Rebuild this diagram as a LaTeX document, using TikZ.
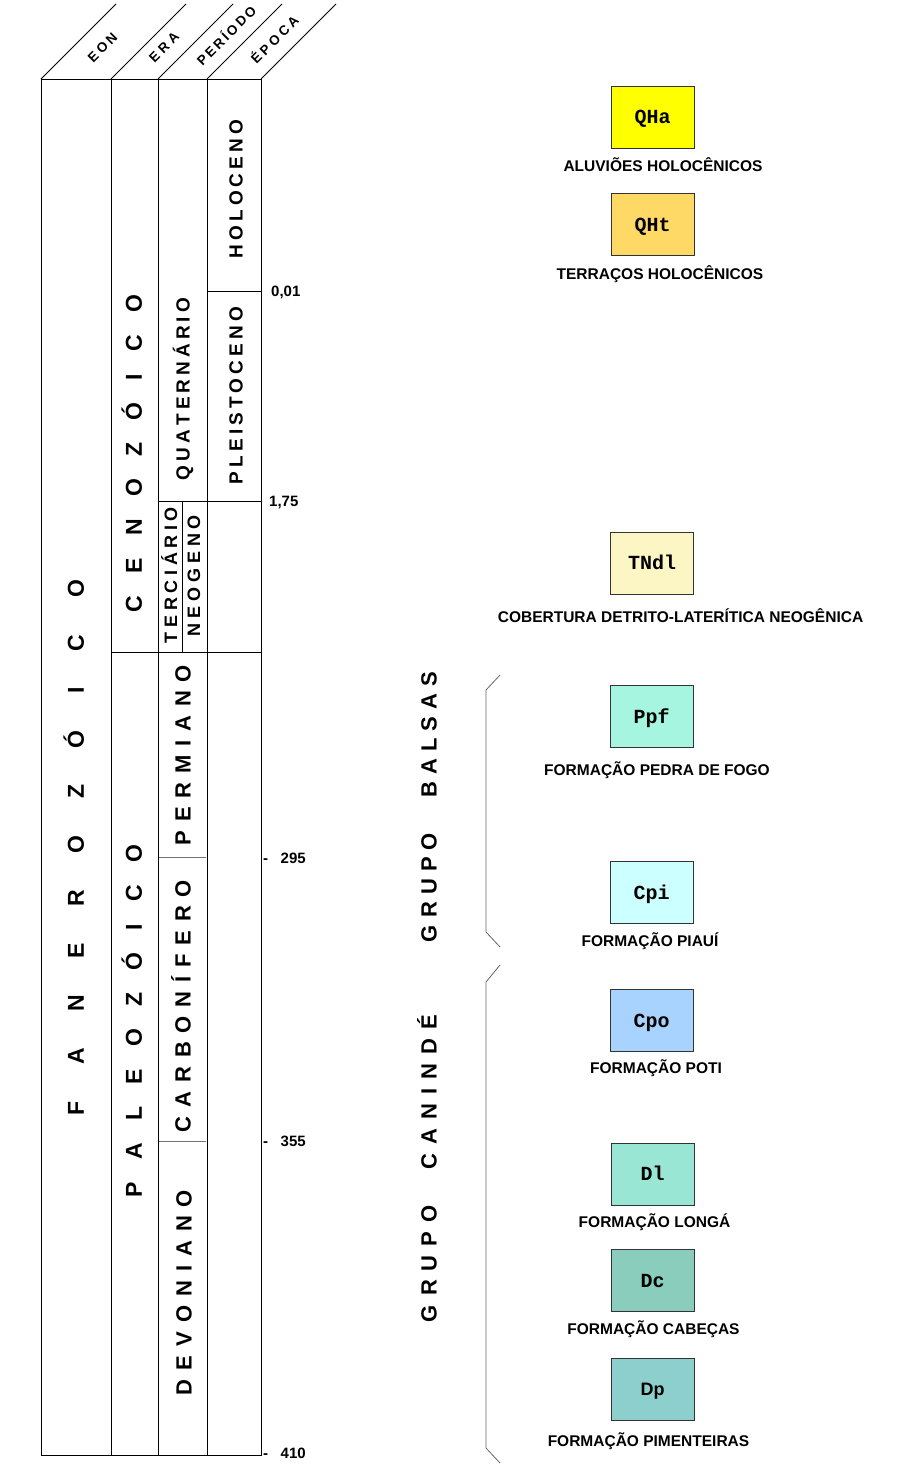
\documentclass[tikz,border=0pt]{standalone}
\usepackage{fontspec}
\setmainfont{Liberation Sans}
\newfontfamily\monob{Liberation Mono}
\newcommand{\capbox}[1]{\vphantom{X}\smash{#1}}
\newcommand{\spreadbox}[2]{\vphantom{X}\smash{\makebox[#1][s]{#2}}}
\definecolor{cQHa}{HTML}{FFFF00}
\definecolor{cQHt}{HTML}{FFD966}
\definecolor{cTNdl}{HTML}{FBF6C4}
\definecolor{cPpf}{HTML}{A6F5E1}
\definecolor{cCpi}{HTML}{CCFFFF}
\definecolor{cCpo}{HTML}{A8D3FF}
\definecolor{cDl}{HTML}{9AE6D4}
\definecolor{cDc}{HTML}{8ACDBD}
\definecolor{cDp}{HTML}{8CCFCC}
\begin{document}
\begin{tikzpicture}[x=1pt,y=-1pt,
  col/.style={line width=1pt, draw=black},
  sub/.style={line width=1pt, draw=black!55},
  vword/.style={rotate=90, inner sep=0pt, font=\bfseries\fontsize{#1}{#1}\selectfont},
  hdr/.style={rotate=45, inner sep=0pt, font=\bfseries\fontsize{13.5}{13.5}\selectfont},
  age/.style={anchor=west, inner sep=0pt, font=\bfseries\fontsize{15}{15}\selectfont},
  unit/.style={draw=black!80, line width=0.8pt, minimum width=83pt, minimum height=62pt, inner sep=0pt, font=\monob\bfseries\fontsize{20}{20}\selectfont, fill=#1},
  lab/.style={inner sep=0pt, font=\bfseries\fontsize{15.5}{15.5}\selectfont},
  bracket/.style={draw=black!60, line width=0.8pt}
]
\useasboundingbox[fill=white] (0,0) rectangle (922,1475);

% table frame
\draw[col] (41,79) rectangle (261,1455);
\foreach \x in {111,158,207} \draw[col] (\x,79) -- (\x,1455);
\foreach \x in {41,111,158,207,261} \draw[col] (\x,79) -- ++(75,-75);
\draw[col] (207,291) -- (261,291);
\draw[col] (158,501) -- (261,501);
\draw[col] (111,652) -- (261,652);
\draw[col] (182,501) -- (182,652);
\draw[sub] (159,857) -- (206,857);
\draw[sub] (159,1141) -- (206,1141);

% header labels
\node[hdr] (hEon) at (102.5,47.5) {\spreadbox{35pt}{E O N}};
\node[hdr] (hEra) at (164,47) {\spreadbox{36pt}{E R A}};
\node[hdr] (hPer) at (226.5,36) {\spreadbox{77pt}{P E R Í O D O}};
\node[hdr] (hEpo) at (275,40) {\spreadbox{61pt}{É P O C A}};

% vertical words
\node[vword=23] (fan) at (76,847.5) {\spreadbox{535pt}{F A N E R O Z Ó I C O}};
\node[vword=23] (cen) at (134,453.5) {\spreadbox{317pt}{C E N O Z Ó I C O}};
\node[vword=23] (pal) at (134,1021) {\spreadbox{352pt}{P A L E O Z Ó I C O}};
\node[vword=19] (qua) at (183,389) {\spreadbox{182pt}{Q U A T E R N Á R I O}};
\node[vword=18] (ter) at (171,575) {\spreadbox{136pt}{T E R C I Á R I O}};
\node[vword=18] (neo) at (194,575.5) {\spreadbox{121pt}{N E O G E N O}};
\node[vword=22] (per) at (183,755) {\spreadbox{180pt}{P E R M I A N O}};
\node[vword=22] (car) at (183,1006) {\spreadbox{252pt}{C A R B O N Í F E R O}};
\node[vword=22] (dev) at (184,1292.5) {\spreadbox{205pt}{D E V O N I A N O}};
\node[vword=19] (hol) at (236,189) {\spreadbox{138pt}{H O L O C E N O}};
\node[vword=19] (ple) at (236,395.5) {\spreadbox{177pt}{P L E I S T O C E N O}};
\node[vword=22] (gba) at (429,807) {\spreadbox{270pt}{G R U P O \ \ \ \ B A L S A S}};
\node[vword=22] (gca) at (429,1168.5) {\spreadbox{307pt}{G R U P O \ \ \ C A N I N D É}};

% ages
\node[age] (a1) at (271,291) {\capbox{0,01}};
\node[age] (a2) at (269,501) {\capbox{1,75}};
\node[age] (a3) at (263,858) {\capbox{-\ \ \ 295}};
\node[age] (a4) at (263,1141) {\capbox{-\ \ \ 355}};
\node[age] (a5) at (263,1453) {\capbox{-\ \ \ 410}};

% brackets
\draw[bracket] (500,675) -- (486,690) -- (486,932) -- (500,947);
\draw[bracket] (500,965) -- (486,982) -- (486,1448) -- (500,1463);

% units
\node[unit=cQHa] (qha) at (652.5,117) {\capbox{QHa}};
\node[unit=cQHt] (qht) at (652.5,224.5) {\capbox{QHt}};
\node[unit=cTNdl] (tndl) at (652,563) {\capbox{TNdl}};
\node[unit=cPpf] (ppf) at (651.5,716.5) {\capbox{Ppf}};
\node[unit=cCpi] (cpi) at (651.5,892.5) {\capbox{Cpi}};
\node[unit=cCpo] (cpo) at (651.5,1020.5) {\capbox{Cpo}};
\node[unit=cDl] (dl) at (652.5,1174) {\capbox{Dl}};
\node[unit=cDc] (dc) at (652.5,1280.5) {\capbox{Dc}};
\node[unit=cDp, font=\bfseries\fontsize{18}{18}\selectfont] (dp) at (652.5,1389.5) {\capbox{Dp}};

% labels
\node[lab] (lqha) at (663,166) {\capbox{ALUVIÕES HOLOCÊNICOS}};
\node[lab] (lqht) at (660,274) {\capbox{TERRAÇOS HOLOCÊNICOS}};
\node[lab] (ltndl) at (680.5,617) {\capbox{COBERTURA DETRITO-LATERÍTICA NEOGÊNICA}};
\node[lab] (lppf) at (657,770) {\capbox{FORMAÇÃO PEDRA DE FOGO}};
\node[lab] (lcpi) at (650,941) {\capbox{FORMAÇÃO PIAUÍ}};
\node[lab] (lcpo) at (656,1068) {\capbox{FORMAÇÃO POTI}};
\node[lab] (ldl) at (654.5,1222) {\capbox{FORMAÇÃO LONGÁ}};
\node[lab] (ldc) at (653.5,1329) {\capbox{FORMAÇÃO CABEÇAS}};
\node[lab] (ldp) at (648.5,1441) {\capbox{FORMAÇÃO PIMENTEIRAS}};
\end{tikzpicture}
\end{document}
